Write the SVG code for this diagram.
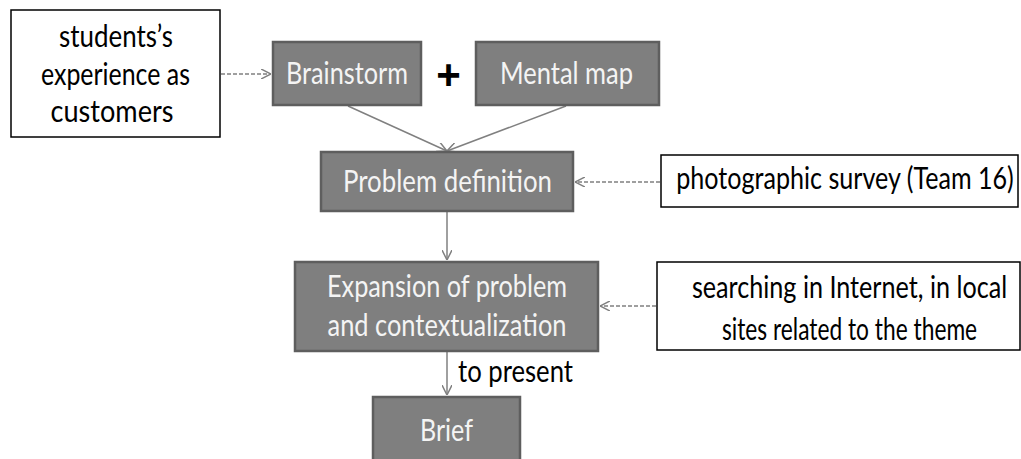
<svg xmlns="http://www.w3.org/2000/svg" width="1021" height="459" viewBox="0 0 1021 459">
<style>
.g rect{fill:#7f7f7f;stroke:#5e5e5e;stroke-width:2.5}
.w rect{fill:#ffffff;stroke:#000000;stroke-width:1.5}
text{font-family:Lato,"Liberation Sans",sans-serif;font-size:30px;text-anchor:middle}
.g text{fill:#f4f4f4}
.w text, .lbl{fill:#000000}
.c line{stroke:#808080;stroke-width:1.5;fill:none}
.c .d{stroke-dasharray:4 2}
</style>
<defs>
<marker id="ah" viewBox="0 0 10 10" refX="10" refY="5" markerWidth="10" markerHeight="10" markerUnits="userSpaceOnUse" orient="auto">
<path d="M0,0 L10,5 L0,10" fill="none" stroke="#808080" stroke-width="1.5"/>
</marker>
</defs>
<rect width="1021" height="459" fill="#ffffff"/>
<g class="c" id="connectors">
<line class="d" x1="221" y1="74" x2="271" y2="74" marker-end="url(#ah)"/>
<line x1="348" y1="106" x2="447" y2="151" marker-end="url(#ah)"/>
<line x1="566" y1="106" x2="447" y2="151" marker-end="url(#ah)"/>
<line x1="447" y1="212" x2="447" y2="260" marker-end="url(#ah)"/>
<line class="d" x1="660" y1="182" x2="575" y2="182" marker-end="url(#ah)"/>
<line class="d" x1="656" y1="306" x2="600" y2="306" marker-end="url(#ah)"/>
<line x1="447" y1="352" x2="447" y2="395" marker-end="url(#ah)"/>
</g>
<g class="w" id="students">
<rect x="11" y="10" width="209" height="127"/>
<text x="116" y="47" textLength="114" lengthAdjust="spacingAndGlyphs">students’s</text>
<text x="115.5" y="85" textLength="149" lengthAdjust="spacingAndGlyphs">experience as</text>
<text x="112" y="122" textLength="123" lengthAdjust="spacingAndGlyphs">customers</text>
</g>
<g class="g" id="brainstorm">
<rect x="273" y="42" width="148" height="63"/>
<text x="347" y="84" textLength="122" lengthAdjust="spacingAndGlyphs">Brainstorm</text>
</g>
<g id="plus">
<text x="448.5" y="89" style="font-family:'Liberation Sans',sans-serif;font-size:42px;font-weight:bold" fill="#000000">+</text>
</g>
<g class="g" id="mentalmap">
<rect x="476" y="42" width="183" height="63"/>
<text x="566.5" y="84" textLength="133" lengthAdjust="spacingAndGlyphs">Mental map</text>
</g>
<g class="g" id="problem">
<rect x="321" y="152" width="252" height="59"/>
<text x="447.5" y="192" textLength="209" lengthAdjust="spacingAndGlyphs">Problem definition</text>
</g>
<g class="w" id="photo">
<rect x="661" y="155" width="357" height="52"/>
<text transform="translate(845 189) scale(0.8 1)" x="0" y="0" textLength="422" lengthAdjust="spacingAndGlyphs">photographic survey (Team 16)</text>
</g>
<g class="g" id="expansion">
<rect x="295" y="262" width="303" height="89"/>
<text x="447" y="297" textLength="240" lengthAdjust="spacingAndGlyphs">Expansion of problem</text>
<text x="447" y="336" textLength="239" lengthAdjust="spacingAndGlyphs">and contextualization</text>
</g>
<g class="w" id="searching">
<rect x="657" y="262" width="363" height="88"/>
<text transform="translate(849.5 298) scale(0.8 1)" x="0" y="0" textLength="394" lengthAdjust="spacingAndGlyphs">searching in Internet, in local</text>
<text transform="translate(849.5 340) scale(0.8 1)" x="0" y="0" textLength="319" lengthAdjust="spacingAndGlyphs">sites related to the theme</text>
</g>
<g id="label">
<text class="lbl" x="515.5" y="382" textLength="115" lengthAdjust="spacingAndGlyphs">to present</text>
</g>
<g class="g" id="brief">
<rect x="373" y="397" width="147" height="70"/>
<text x="446.5" y="441" textLength="53" lengthAdjust="spacingAndGlyphs">Brief</text>
</g>
</svg>
